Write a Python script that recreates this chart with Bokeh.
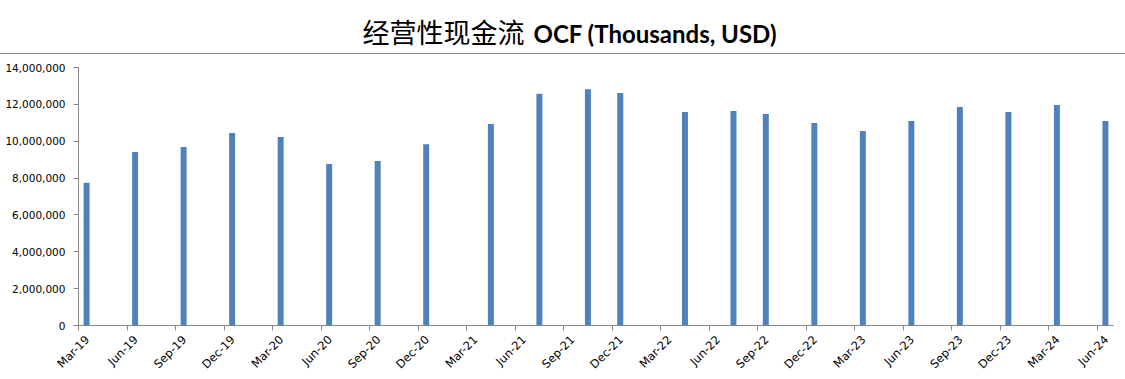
import math
from bokeh.plotting import figure
from bokeh.layouts import column
from bokeh.models import (ColumnDataSource, FixedTicker, NumeralTickFormatter,
                          Range1d, Div)
from bokeh.core.properties import value
from bokeh.embed import file_html
from bokeh.resources import INLINE

# ---- data ----
periods = ["2019-03", "2019-06", "2019-09", "2019-12", "2020-03", "2020-06",
           "2020-09", "2020-12", "2021-04", "2021-07", "2021-10", "2021-12",
           "2022-04", "2022-07", "2022-09", "2022-12", "2023-03", "2023-06",
           "2023-09", "2023-12", "2024-03", "2024-06"]
ocf = [7740000, 9420000, 9690000, 10450000, 10230000, 8770000,
       8930000, 9840000, 10940000, 12570000, 12820000, 12620000,
       11590000, 11640000, 11480000, 10990000, 10560000, 11100000,
       11860000, 11590000, 11970000, 11100000]
tick_labels = ["Mar-19", "Jun-19", "Sep-19", "Dec-19", "Mar-20", "Jun-20",
               "Sep-20", "Dec-20", "Mar-21", "Jun-21", "Sep-21", "Dec-21",
               "Mar-22", "Jun-22", "Sep-22", "Dec-22", "Mar-23", "Jun-23",
               "Sep-23", "Dec-23", "Mar-24", "Jun-24"]
title_cn = "经营性现金流"
title_en = "OCF (Thousands, USD)"


def month_index(s):
    y, m = s.split("-")
    return (int(y) - 2019) * 12 + (int(m) - 3)


xs = [month_index(p) + 0.5 for p in periods]
tick_pos = [3 * i for i in range(len(tick_labels))]
label_pos = [t + 0.55 for t in tick_pos]
source = ColumnDataSource(dict(x=xs, top=ocf))

W = 1125
BL, BR = 78, 12          # chart borders (left / right)
TOP_H = 53               # title strip height
RULE_H = 1               # grey rule height

# ---- title strip (data units == screen pixels) ----
t = figure(width=W, height=TOP_H, output_backend="svg", toolbar_location=None,
           x_range=Range1d(BL, W - BR), y_range=Range1d(TOP_H, 0),
           x_axis_type=None, y_axis_type=None,
           min_border_left=BL, min_border_right=BR,
           min_border_top=0, min_border_bottom=0)
t.outline_line_color = None
t.xgrid.visible = False
t.ygrid.visible = False
t.text(x=[524], y=[31], text=[title_cn], text_align="right",
       text_baseline="middle", text_font=value("Noto Sans CJK SC"),
       text_font_size="27px", text_font_style="normal", text_color="#000000")
t.text(x=[533], y=[33], text=[title_en], text_align="left",
       text_baseline="middle", text_font=value("Lato"),
       text_font_size="24px", text_font_style="bold", text_color="#000000")

rule = Div(text="", width=W, height=RULE_H, margin=0,
           styles={"background-color": "#8C8C8C", "overflow": "hidden"})

# ---- chart ----
p = figure(width=W, height=379 - TOP_H - RULE_H, output_backend="svg",
           toolbar_location=None,
           x_range=Range1d(0, tick_pos[-1] + 1), y_range=Range1d(0, 14000000),
           min_border_left=BL, min_border_right=BR, min_border_top=13,
           min_border_bottom=54)
p.outline_line_color = None
p.xgrid.visible = False
p.ygrid.visible = False

p.vbar(x="x", top="top", bottom=0, width=0.37, source=source,
       fill_color="#4F81BD", line_color=None)

axis_color = "#868686"
lab_font = "DejaVu Sans"

xa = p.xaxis[0]
xa.ticker = FixedTicker(ticks=label_pos, minor_ticks=tick_pos)
xa.major_label_overrides = {lp: l for lp, l in zip(label_pos, tick_labels)}
xa.major_label_orientation = math.pi / 4
xa.axis_line_color = axis_color
xa.major_tick_line_color = None
xa.major_tick_in = 0
xa.major_tick_out = 5
xa.minor_tick_line_color = axis_color
xa.minor_tick_in = 0
xa.minor_tick_out = 5
xa.major_label_text_font = lab_font
xa.major_label_text_font_size = "11.5px"
xa.major_label_text_color = "#000000"
xa.major_label_standoff = 7

ya = p.yaxis[0]
ya.ticker = FixedTicker(ticks=list(range(0, 14000001, 2000000)))
ya.formatter = NumeralTickFormatter(format="0,0")
ya.axis_line_color = axis_color
ya.major_tick_line_color = axis_color
ya.major_tick_in = 0
ya.major_tick_out = 5
ya.minor_tick_line_color = None
ya.major_label_text_font = lab_font
ya.major_label_text_font_size = "10.5px"
ya.major_label_text_color = "#000000"
ya.major_label_standoff = 8

layout = column(t, rule, p, spacing=0)
open("out.html", "w").write(file_html(layout, INLINE))
